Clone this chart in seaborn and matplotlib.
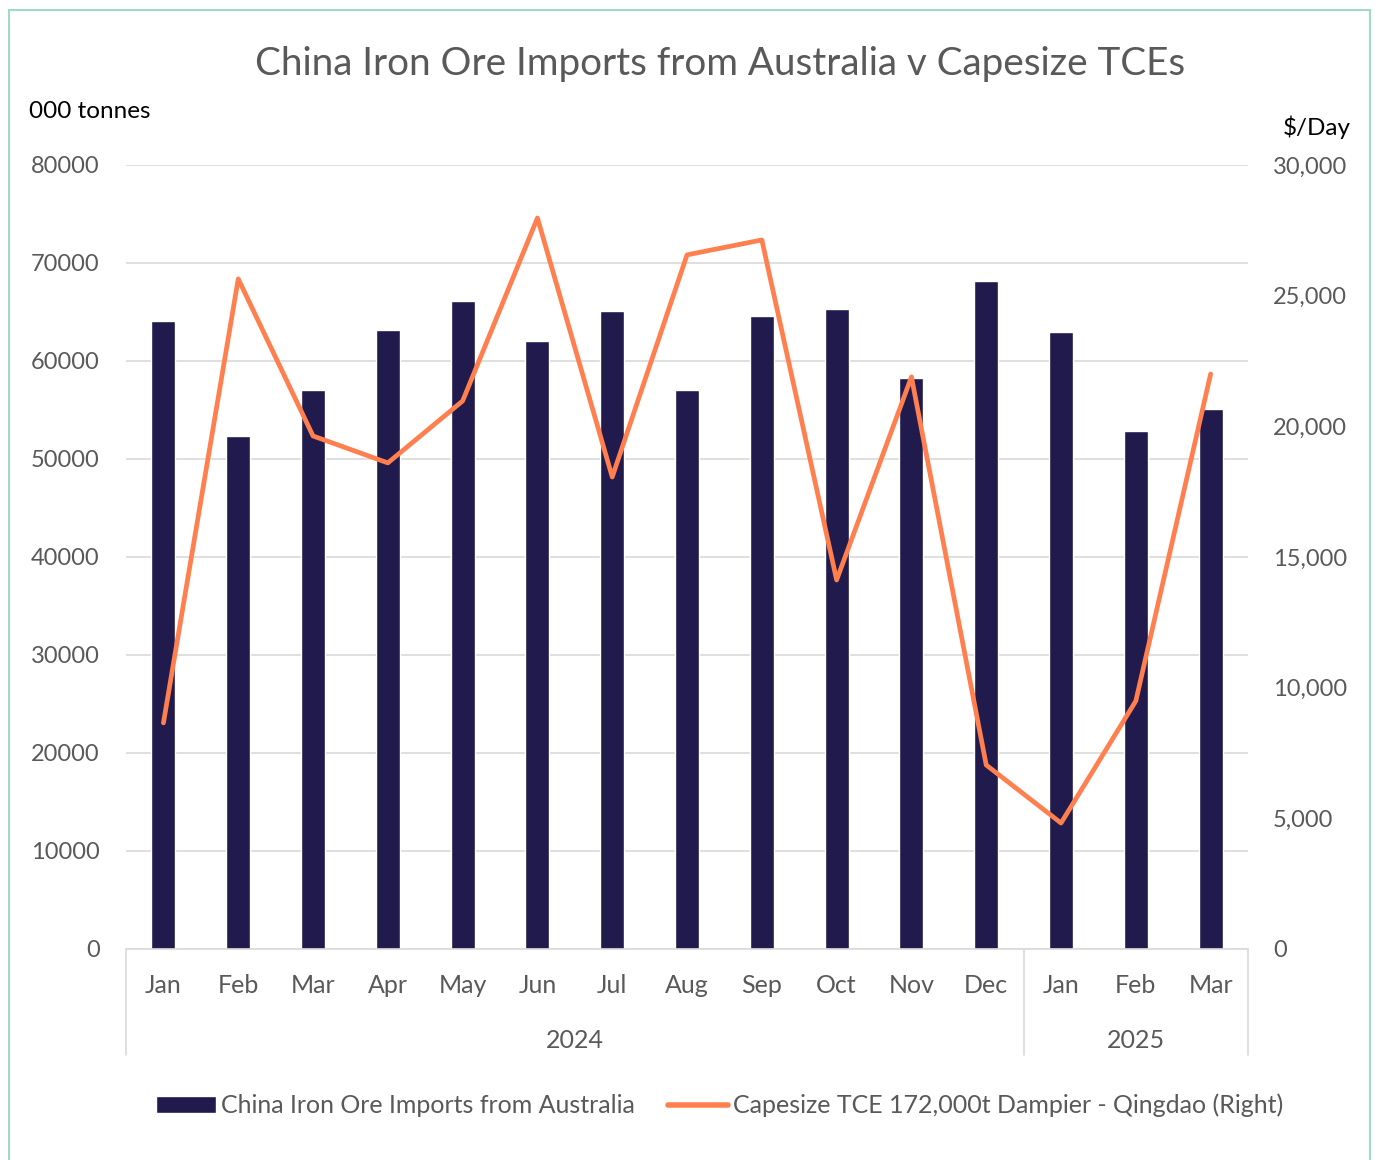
import pandas as pd
import matplotlib.pyplot as plt
import seaborn as sns
from matplotlib.patches import Rectangle, Patch
from matplotlib.lines import Line2D

# data
months = ['Jan', 'Feb', 'Mar', 'Apr', 'May', 'Jun', 'Jul', 'Aug', 'Sep', 'Oct', 'Nov', 'Dec',
          'Jan', 'Feb', 'Mar']
years = ['2024'] * 12 + ['2025'] * 3
imports = [64100, 52300, 57000, 63200, 66100, 62000, 65100, 57000, 64600, 65300, 58300, 68200,
           63000, 52900, 55100]
tce = [8650, 25640, 19630, 18600, 20970, 27970, 18060, 26560, 27130, 14120, 21890, 7040,
       4820, 9490, 22000]

df = pd.DataFrame({'pos': range(len(months)), 'month': months, 'year': years,
                   'imports': imports, 'tce': tce})

sns.set_theme(style='white')
plt.rcParams['font.family'] = ['Lato', 'DejaVu Sans']

bar_col = '#211a4c'
line_col = '#ff7f4f'
txt_col = '#595959'
grid_col = '#d9d9d9'

fig = plt.figure(figsize=(13.76, 11.6), dpi=100)
ax = fig.add_axes([0.0916, 0.1819, 0.8154, 0.6759])

sns.barplot(data=df, x='pos', y='imports', color=bar_col, width=0.32, saturation=1, ax=ax)
ax.set_xlim(-0.5, 14.5)
ax.set_ylim(0, 80000)
ax.set_yticks(range(0, 80001, 10000))
ax.yaxis.grid(True, color=grid_col, lw=1.2)
ax.set_axisbelow(True)
ax.set_xlabel('')
ax.set_ylabel('')
ax.set_xticks(range(len(months)))
ax.set_xticklabels(months)
ax.tick_params(axis='x', length=0, pad=18, labelsize=18, labelcolor=txt_col)
ax.tick_params(axis='y', length=0, pad=19, labelsize=17, labelcolor=txt_col)
for s in ['left', 'right', 'top']:
    ax.spines[s].set_visible(False)
ax.spines['bottom'].set_color(grid_col)
ax.spines['bottom'].set_linewidth(1.2)

ax2 = ax.twinx()
sns.lineplot(data=df, x='pos', y='tce', color=line_col, lw=3.4, ax=ax2)
ax2.set_ylim(0, 30000)
ax2.set_yticks(range(0, 30001, 5000))
ax2.set_yticklabels([f'{v:,}' for v in range(0, 30001, 5000)])
ax2.set_ylabel('')
ax2.set_xlabel('')
ax2.tick_params(axis='y', length=0, pad=18, labelsize=17, labelcolor=txt_col)
for s in ax2.spines.values():
    s.set_visible(False)
ax2.set_xlim(-0.5, 14.5)

# multi-level category axis
trans = ax.get_xaxis_transform()
for x in [-0.5, 11.5, 14.5]:
    ax.plot([x, x], [0, -0.135], transform=trans, color=grid_col, lw=1.2, clip_on=False)
for yr in ['2024', '2025']:
    p = df.loc[df['year'] == yr, 'pos']
    ax.text((p.min() + p.max()) / 2, -0.117, yr, transform=trans, ha='center', va='center',
            fontsize=18, color=txt_col)

fig.text(0.523, 0.945, 'China Iron Ore Imports from Australia v Capesize TCEs',
         ha='center', va='center', fontsize=27.8, color=txt_col)
fig.text(0.021, 0.904, '000 tonnes', ha='left', va='center', fontsize=17.5, color='black')
fig.text(0.982, 0.890, '$/Day', ha='right', va='center', fontsize=17.5, color='black')

handles = [Patch(facecolor=bar_col), Line2D([0], [0], color=line_col, lw=4)]
labels = ['China Iron Ore Imports from Australia', 'Capesize TCE 172,000t Dampier - Qingdao (Right)']
fig.legend(handles, labels, loc='center', bbox_to_anchor=(0.523, 0.047), ncol=2, frameon=False,
           fontsize=18, labelcolor=txt_col, handlelength=2.4, handletextpad=0.2, columnspacing=1.3)

fig.patches.append(Rectangle((0.0065, -0.02), 0.989, 1.0114, transform=fig.transFigure,
                             fill=False, edgecolor='#9fd9c8', lw=1.5))

fig.savefig('out.png', dpi=100)
